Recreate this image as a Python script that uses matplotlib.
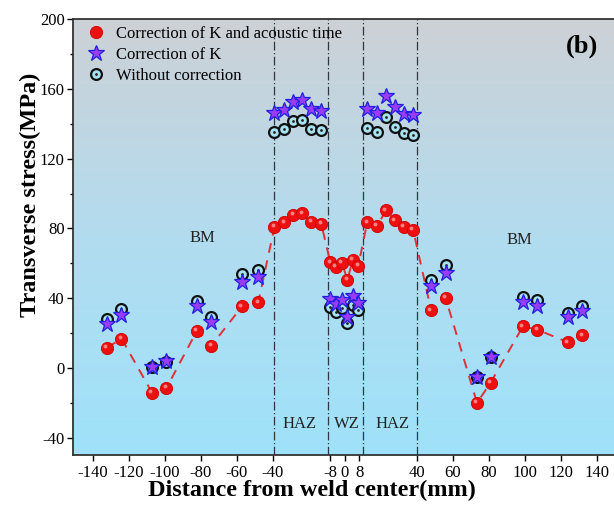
import numpy as np
import matplotlib
matplotlib.use("Agg")
import matplotlib.pyplot as plt
from matplotlib.colors import LinearSegmentedColormap
from matplotlib.ticker import MultipleLocator
import matplotlib.transforms as mtransforms

plt.rcParams['font.family'] = ['Liberation Serif', 'DejaVu Serif']
plt.rcParams['axes.unicode_minus'] = False

# Data #
distance = [-132, -124, -107, -99, -82, -74, -57, -48,
            -39, -33.5, -28.5, -23.5, -18.5, -13,
            -8, -5, -1.5, 1.5, 4.5, 7.5,
            12.5, 18, 23, 28, 33, 38,
            48, 56, 73.5, 81, 99, 107, 124, 132]
stress_k_time = [11.5, 16.8, -14.3, -11.5, 21.4, 12.8, 35.3, 37.6,
                 81, 83.4, 87.9, 88.6, 83.6, 82.5,
                 60.5, 58, 60.3, 50.4, 62.1, 58.4,
                 83.4, 81.5, 90.3, 84.6, 80.8, 79.3,
                 33, 40.3, -20.1, -8.6, 23.8, 21.9, 14.7, 18.7]
stress_k = [25.4, 30.5, 0.6, 3.8, 35.3, 26.5, 49.1, 51.9,
            146.1, 148, 152.8, 153.8, 148.6, 147.5,
            39.5, 36.8, 39.1, 29.1, 41, 37.4,
            148.4, 146.5, 156, 149.9, 145.7, 144.8,
            46.8, 54.4, -5.2, 6.3, 37.6, 35.7, 29, 32.8]
stress_raw = [28.1, 33.8, 0.3, 3.5, 38.6, 29, 53.9, 56.3,
              135.2, 137.1, 141.7, 142.3, 137.1, 136.2,
              35, 31.9, 34.4, 25.8, 35.9, 33,
              137.5, 135.6, 144.2, 138.1, 135, 133.7,
              50.6, 59.2, -5.3, 6, 40.5, 39.1, 31.5, 35.3]
zone_bounds = [-39, -9, 10, 40]
xticks = [-140, -120, -100, -80, -60, -40, -8, 0, 8, 40, 60, 80, 100, 120, 140]

fig = plt.figure(figsize=(6.14, 5.07), dpi=100)
ax = fig.add_axes([0.1187, 0.1026, 0.8854, 0.8594])
ax.set_xlim(-151, 151)
ax.set_ylim(-50, 200)

# gradient background
cmap = LinearSegmentedColormap.from_list("bg", ["#9fe2fa", "#b2dcef", "#cdd1d6"])
grad = np.linspace(0, 1, 256).reshape(-1, 1)
ax.imshow(grad, aspect='auto', cmap=cmap, origin='lower',
          extent=[-151, 151, -50, 200], zorder=0)

for b in zone_bounds:
    ax.axvline(b, color='#2e3640', lw=0.9, ls=(0, (7, 2, 1, 2)), zorder=1)

# markers
raw_line, = ax.plot(distance, stress_raw, 'o', ms=7.8, mfc='#a6e2f0', mec='#111111',
                    mew=1.6, zorder=3)
raw_dot, = ax.plot(distance, stress_raw, 'o', ms=2.0, mfc='#222222', mec='none', zorder=3.1)
star_line, = ax.plot(distance, stress_k, '*', ms=12, mfc='#9a3cf5', mec='#2020e0',
                     mew=0.9, zorder=4)
ax.plot(distance, stress_k_time, ls=(0, (5, 4)), color='#e03038', lw=1.4, zorder=2)
red_line, = ax.plot(distance, stress_k_time, 'o', ms=8.8, mfc='#ee1010', mec='#d00000',
                    mew=0.6, zorder=5)
hl = mtransforms.offset_copy(ax.transData, fig=fig, x=-1.2, y=1.2, units='points')
ax.plot(distance, stress_k_time, 'o', ms=2.8, mfc='#ff8080', mec='none', zorder=5.1,
        transform=hl)

# zone labels
ax.text(-79, 74.5, "BM", fontsize=12, ha='center', va='center', color='#222222')
ax.text(97, 73.5, "BM", fontsize=12, ha='center', va='center', color='#222222')
ax.text(-25, -32.5, "HAZ", fontsize=12, ha='center', va='center', color='#222222')
ax.text(1, -32.5, "WZ", fontsize=12, ha='center', va='center', color='#222222')
ax.text(26.5, -32.5, "HAZ", fontsize=12, ha='center', va='center', color='#222222')
ax.text(0.966, 0.965, "(b)", transform=ax.transAxes, fontsize=19, fontweight='bold',
        ha='right', va='top')

ax.set_xticks(xticks)
ax.set_xticklabels([str(t) for t in xticks])
ax.yaxis.set_major_locator(MultipleLocator(40))
ax.yaxis.set_minor_locator(MultipleLocator(20))
ax.tick_params(axis='both', which='major', direction='out', length=4, width=1,
               labelsize=12, pad=2)
ax.tick_params(axis='x', which='major', pad=3.5)
ax.tick_params(axis='y', which='minor', direction='out', length=2.5, width=1)
for s in ax.spines.values():
    s.set_linewidth(1.3)
    s.set_color('#333333')

ax.set_xlabel("Distance from weld center(mm)", fontsize=17.5, fontweight='bold')
ax.xaxis.set_label_coords(0.439, -0.058)
ax.set_ylabel("Transverse stress(MPa)", fontsize=17.5, fontweight='bold')
ax.yaxis.set_label_coords(-0.058, 0.597)

ax.legend([red_line, star_line, (raw_line, raw_dot)],
          ["Correction of K and acoustic time", "Correction of K", "Without correction"],
          loc='upper left', frameon=False, fontsize=12, handletextpad=0.45,
          borderaxespad=0.25, labelspacing=0.28, handlelength=1.5,
          bbox_to_anchor=(0.0, 1.009))

plt.savefig("out.png", dpi=100)
